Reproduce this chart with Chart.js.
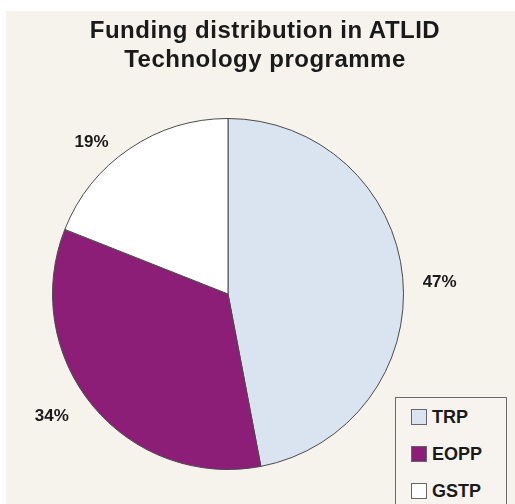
<!DOCTYPE html>
<html>
<head>
<meta charset="utf-8">
<script src="https://cdn.jsdelivr.net/npm/chart.js@4.4.1/dist/chart.umd.min.js"></script>
<style>
  html, body { margin: 0; padding: 0; background: #ffffff; width: 515px; height: 504px; overflow: hidden; }
  #panel { position: absolute; left: 6px; top: 11px; width: 509px; height: 493px; background: #f6f3ed; }
  #title { position: absolute; left: 0; top: 4px; width: 518px; text-align: center;
           font-family: "Liberation Sans", Arial, sans-serif; font-weight: bold; font-size: 24px;
           letter-spacing: 0.5px; line-height: 29px; color: #1a1a1a; }
  #chartBox { position: absolute; left: 0; top: 0; width: 509px; height: 493px; }
  #legend { position: absolute; left: 389px; top: 386px; width: 112px; height: 120px;
            border: 1px solid #6a6a6a; box-sizing: border-box; background: #f7f4ef; }
  .item { position: absolute; left: 15px; height: 18px; font-family: "Liberation Sans", Arial, sans-serif;
          font-weight: bold; font-size: 18px; color: #1a1a1a; line-height: 18px; white-space: nowrap; }
  .sw { display: inline-block; width: 14px; height: 14px; border: 1px solid #666; vertical-align: top;
        margin-top: 1px; margin-right: 5px; box-sizing: content-box; }
</style>
</head>
<body>
<div id="panel">
  <div id="chartBox"><canvas id="c" width="509" height="493"></canvas></div>
  <div id="title">Funding distribution in ATLID<br>Technology programme</div>
  <div id="legend"></div>
</div>
<script>
const categories = ["TRP", "EOPP", "GSTP"];
const values = [47, 34, 19];
const labelsText = ["47%", "34%", "19%"];
const colors = ["#dae3f0", "#8c1e78", "#ffffff"];

// legend (HTML, generated from data)
const legend = document.getElementById('legend');
categories.forEach((cat, i) => {
  const d = document.createElement('div');
  d.className = 'item';
  d.style.top = (10 + i * 37) + 'px';
  const sw = document.createElement('span');
  sw.className = 'sw';
  sw.style.background = colors[i];
  d.appendChild(sw);
  d.appendChild(document.createTextNode(cat));
  legend.appendChild(d);
});

const outsideLabels = {
  id: 'outsideLabels',
  afterDatasetsDraw(chart, args, opts) {
    const ctx = chart.ctx;
    const meta = chart.getDatasetMeta(0);
    const nudge = opts.nudge || [];
    ctx.save();
    ctx.font = 'bold 17px "Liberation Sans", Arial, sans-serif';
    ctx.fillStyle = '#1a1a1a';
    ctx.textAlign = 'center';
    ctx.textBaseline = 'middle';
    meta.data.forEach((arc, i) => {
      const p = arc.getProps(['x', 'y', 'startAngle', 'endAngle', 'outerRadius'], true);
      const mid = (p.startAngle + p.endAngle) / 2;
      const r = p.outerRadius * 1.2;
      const n = nudge[i] || [0, 0];
      ctx.fillText(labelsText[i], p.x + Math.cos(mid) * r + n[0], p.y + Math.sin(mid) * r + n[1]);
    });
    ctx.restore();
  }
};

new Chart(document.getElementById('c'), {
  type: 'pie',
  data: {
    labels: categories,
    datasets: [{
      data: values,
      backgroundColor: colors,
      borderColor: '#4a4a4a',
      borderWidth: 1
    }]
  },
  options: {
    responsive: false,
    animation: false,
    layout: { padding: { left: 46, top: 107, right: 111, bottom: 34 } },
    plugins: {
      legend: { display: false },
      title: { display: false },
      tooltip: { enabled: false },
      outsideLabels: { nudge: [[2, 8], [-14, -12], [-18, 22]] }
    }
  },
  plugins: [outsideLabels]
});
</script>
</body>
</html>
